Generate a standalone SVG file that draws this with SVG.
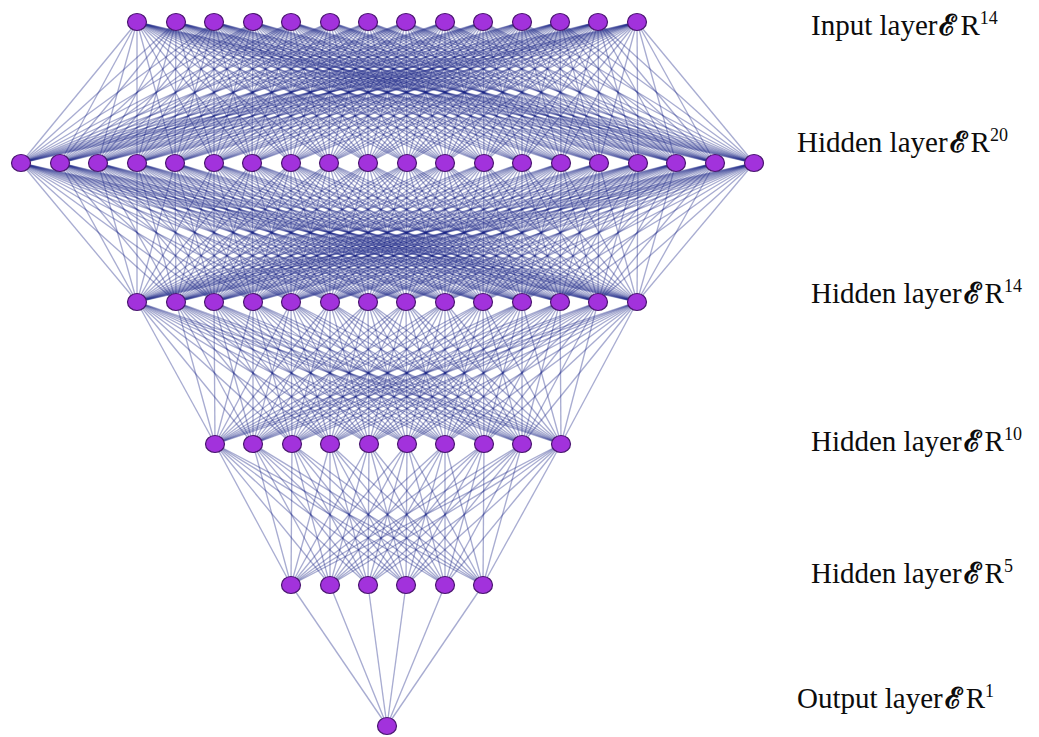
<svg xmlns="http://www.w3.org/2000/svg" width="1039" height="737" viewBox="0 0 1039 737">
<style>
.edges path{fill:none;stroke:#1b2585;stroke-opacity:.38;stroke-width:1.35}
.node{fill:#a232dc;stroke:#4a1670;stroke-width:1.2}
.lbl{font-family:"Liberation Serif","Times New Roman",serif;font-size:29px;fill:#0c0c0c}
.sym{font-family:"DejaVu Serif",serif;font-size:29px;font-weight:bold}
.sup{font-size:18px}
</style>
<rect width="1039" height="737" fill="#fff"/>
<g id="connectors" class="edges">
<path d="M137 22 21 163"/><path d="M137 22 60 163"/><path d="M137 22 98 163"/><path d="M137 22 137 163"/><path d="M137 22 175 163"/><path d="M137 22 214 163"/><path d="M137 22 252 163"/><path d="M137 22 291 163"/><path d="M137 22 329 163"/><path d="M137 22 368 163"/><path d="M137 22 407 163"/><path d="M137 22 445 163"/><path d="M137 22 484 163"/><path d="M137 22 522 163"/><path d="M137 22 561 163"/><path d="M137 22 599 163"/><path d="M137 22 638 163"/><path d="M137 22 676 163"/><path d="M137 22 715 163"/><path d="M137 22 754 163"/>
<path d="M176 22 21 163"/><path d="M176 22 60 163"/><path d="M176 22 98 163"/><path d="M176 22 137 163"/><path d="M176 22 175 163"/><path d="M176 22 214 163"/><path d="M176 22 252 163"/><path d="M176 22 291 163"/><path d="M176 22 329 163"/><path d="M176 22 368 163"/><path d="M176 22 407 163"/><path d="M176 22 445 163"/><path d="M176 22 484 163"/><path d="M176 22 522 163"/><path d="M176 22 561 163"/><path d="M176 22 599 163"/><path d="M176 22 638 163"/><path d="M176 22 676 163"/><path d="M176 22 715 163"/><path d="M176 22 754 163"/>
<path d="M214 22 21 163"/><path d="M214 22 60 163"/><path d="M214 22 98 163"/><path d="M214 22 137 163"/><path d="M214 22 175 163"/><path d="M214 22 214 163"/><path d="M214 22 252 163"/><path d="M214 22 291 163"/><path d="M214 22 329 163"/><path d="M214 22 368 163"/><path d="M214 22 407 163"/><path d="M214 22 445 163"/><path d="M214 22 484 163"/><path d="M214 22 522 163"/><path d="M214 22 561 163"/><path d="M214 22 599 163"/><path d="M214 22 638 163"/><path d="M214 22 676 163"/><path d="M214 22 715 163"/><path d="M214 22 754 163"/>
<path d="M253 22 21 163"/><path d="M253 22 60 163"/><path d="M253 22 98 163"/><path d="M253 22 137 163"/><path d="M253 22 175 163"/><path d="M253 22 214 163"/><path d="M253 22 252 163"/><path d="M253 22 291 163"/><path d="M253 22 329 163"/><path d="M253 22 368 163"/><path d="M253 22 407 163"/><path d="M253 22 445 163"/><path d="M253 22 484 163"/><path d="M253 22 522 163"/><path d="M253 22 561 163"/><path d="M253 22 599 163"/><path d="M253 22 638 163"/><path d="M253 22 676 163"/><path d="M253 22 715 163"/><path d="M253 22 754 163"/>
<path d="M291 22 21 163"/><path d="M291 22 60 163"/><path d="M291 22 98 163"/><path d="M291 22 137 163"/><path d="M291 22 175 163"/><path d="M291 22 214 163"/><path d="M291 22 252 163"/><path d="M291 22 291 163"/><path d="M291 22 329 163"/><path d="M291 22 368 163"/><path d="M291 22 407 163"/><path d="M291 22 445 163"/><path d="M291 22 484 163"/><path d="M291 22 522 163"/><path d="M291 22 561 163"/><path d="M291 22 599 163"/><path d="M291 22 638 163"/><path d="M291 22 676 163"/><path d="M291 22 715 163"/><path d="M291 22 754 163"/>
<path d="M330 22 21 163"/><path d="M330 22 60 163"/><path d="M330 22 98 163"/><path d="M330 22 137 163"/><path d="M330 22 175 163"/><path d="M330 22 214 163"/><path d="M330 22 252 163"/><path d="M330 22 291 163"/><path d="M330 22 329 163"/><path d="M330 22 368 163"/><path d="M330 22 407 163"/><path d="M330 22 445 163"/><path d="M330 22 484 163"/><path d="M330 22 522 163"/><path d="M330 22 561 163"/><path d="M330 22 599 163"/><path d="M330 22 638 163"/><path d="M330 22 676 163"/><path d="M330 22 715 163"/><path d="M330 22 754 163"/>
<path d="M368 22 21 163"/><path d="M368 22 60 163"/><path d="M368 22 98 163"/><path d="M368 22 137 163"/><path d="M368 22 175 163"/><path d="M368 22 214 163"/><path d="M368 22 252 163"/><path d="M368 22 291 163"/><path d="M368 22 329 163"/><path d="M368 22 368 163"/><path d="M368 22 407 163"/><path d="M368 22 445 163"/><path d="M368 22 484 163"/><path d="M368 22 522 163"/><path d="M368 22 561 163"/><path d="M368 22 599 163"/><path d="M368 22 638 163"/><path d="M368 22 676 163"/><path d="M368 22 715 163"/><path d="M368 22 754 163"/>
<path d="M406 22 21 163"/><path d="M406 22 60 163"/><path d="M406 22 98 163"/><path d="M406 22 137 163"/><path d="M406 22 175 163"/><path d="M406 22 214 163"/><path d="M406 22 252 163"/><path d="M406 22 291 163"/><path d="M406 22 329 163"/><path d="M406 22 368 163"/><path d="M406 22 407 163"/><path d="M406 22 445 163"/><path d="M406 22 484 163"/><path d="M406 22 522 163"/><path d="M406 22 561 163"/><path d="M406 22 599 163"/><path d="M406 22 638 163"/><path d="M406 22 676 163"/><path d="M406 22 715 163"/><path d="M406 22 754 163"/>
<path d="M445 22 21 163"/><path d="M445 22 60 163"/><path d="M445 22 98 163"/><path d="M445 22 137 163"/><path d="M445 22 175 163"/><path d="M445 22 214 163"/><path d="M445 22 252 163"/><path d="M445 22 291 163"/><path d="M445 22 329 163"/><path d="M445 22 368 163"/><path d="M445 22 407 163"/><path d="M445 22 445 163"/><path d="M445 22 484 163"/><path d="M445 22 522 163"/><path d="M445 22 561 163"/><path d="M445 22 599 163"/><path d="M445 22 638 163"/><path d="M445 22 676 163"/><path d="M445 22 715 163"/><path d="M445 22 754 163"/>
<path d="M483 22 21 163"/><path d="M483 22 60 163"/><path d="M483 22 98 163"/><path d="M483 22 137 163"/><path d="M483 22 175 163"/><path d="M483 22 214 163"/><path d="M483 22 252 163"/><path d="M483 22 291 163"/><path d="M483 22 329 163"/><path d="M483 22 368 163"/><path d="M483 22 407 163"/><path d="M483 22 445 163"/><path d="M483 22 484 163"/><path d="M483 22 522 163"/><path d="M483 22 561 163"/><path d="M483 22 599 163"/><path d="M483 22 638 163"/><path d="M483 22 676 163"/><path d="M483 22 715 163"/><path d="M483 22 754 163"/>
<path d="M522 22 21 163"/><path d="M522 22 60 163"/><path d="M522 22 98 163"/><path d="M522 22 137 163"/><path d="M522 22 175 163"/><path d="M522 22 214 163"/><path d="M522 22 252 163"/><path d="M522 22 291 163"/><path d="M522 22 329 163"/><path d="M522 22 368 163"/><path d="M522 22 407 163"/><path d="M522 22 445 163"/><path d="M522 22 484 163"/><path d="M522 22 522 163"/><path d="M522 22 561 163"/><path d="M522 22 599 163"/><path d="M522 22 638 163"/><path d="M522 22 676 163"/><path d="M522 22 715 163"/><path d="M522 22 754 163"/>
<path d="M560 22 21 163"/><path d="M560 22 60 163"/><path d="M560 22 98 163"/><path d="M560 22 137 163"/><path d="M560 22 175 163"/><path d="M560 22 214 163"/><path d="M560 22 252 163"/><path d="M560 22 291 163"/><path d="M560 22 329 163"/><path d="M560 22 368 163"/><path d="M560 22 407 163"/><path d="M560 22 445 163"/><path d="M560 22 484 163"/><path d="M560 22 522 163"/><path d="M560 22 561 163"/><path d="M560 22 599 163"/><path d="M560 22 638 163"/><path d="M560 22 676 163"/><path d="M560 22 715 163"/><path d="M560 22 754 163"/>
<path d="M598 22 21 163"/><path d="M598 22 60 163"/><path d="M598 22 98 163"/><path d="M598 22 137 163"/><path d="M598 22 175 163"/><path d="M598 22 214 163"/><path d="M598 22 252 163"/><path d="M598 22 291 163"/><path d="M598 22 329 163"/><path d="M598 22 368 163"/><path d="M598 22 407 163"/><path d="M598 22 445 163"/><path d="M598 22 484 163"/><path d="M598 22 522 163"/><path d="M598 22 561 163"/><path d="M598 22 599 163"/><path d="M598 22 638 163"/><path d="M598 22 676 163"/><path d="M598 22 715 163"/><path d="M598 22 754 163"/>
<path d="M637 22 21 163"/><path d="M637 22 60 163"/><path d="M637 22 98 163"/><path d="M637 22 137 163"/><path d="M637 22 175 163"/><path d="M637 22 214 163"/><path d="M637 22 252 163"/><path d="M637 22 291 163"/><path d="M637 22 329 163"/><path d="M637 22 368 163"/><path d="M637 22 407 163"/><path d="M637 22 445 163"/><path d="M637 22 484 163"/><path d="M637 22 522 163"/><path d="M637 22 561 163"/><path d="M637 22 599 163"/><path d="M637 22 638 163"/><path d="M637 22 676 163"/><path d="M637 22 715 163"/><path d="M637 22 754 163"/>
<path d="M21 163 137 302"/><path d="M21 163 176 302"/><path d="M21 163 214 302"/><path d="M21 163 253 302"/><path d="M21 163 291 302"/><path d="M21 163 330 302"/><path d="M21 163 368 302"/><path d="M21 163 406 302"/><path d="M21 163 445 302"/><path d="M21 163 483 302"/><path d="M21 163 522 302"/><path d="M21 163 560 302"/><path d="M21 163 598 302"/><path d="M21 163 637 302"/>
<path d="M60 163 137 302"/><path d="M60 163 176 302"/><path d="M60 163 214 302"/><path d="M60 163 253 302"/><path d="M60 163 291 302"/><path d="M60 163 330 302"/><path d="M60 163 368 302"/><path d="M60 163 406 302"/><path d="M60 163 445 302"/><path d="M60 163 483 302"/><path d="M60 163 522 302"/><path d="M60 163 560 302"/><path d="M60 163 598 302"/><path d="M60 163 637 302"/>
<path d="M98 163 137 302"/><path d="M98 163 176 302"/><path d="M98 163 214 302"/><path d="M98 163 253 302"/><path d="M98 163 291 302"/><path d="M98 163 330 302"/><path d="M98 163 368 302"/><path d="M98 163 406 302"/><path d="M98 163 445 302"/><path d="M98 163 483 302"/><path d="M98 163 522 302"/><path d="M98 163 560 302"/><path d="M98 163 598 302"/><path d="M98 163 637 302"/>
<path d="M137 163 137 302"/><path d="M137 163 176 302"/><path d="M137 163 214 302"/><path d="M137 163 253 302"/><path d="M137 163 291 302"/><path d="M137 163 330 302"/><path d="M137 163 368 302"/><path d="M137 163 406 302"/><path d="M137 163 445 302"/><path d="M137 163 483 302"/><path d="M137 163 522 302"/><path d="M137 163 560 302"/><path d="M137 163 598 302"/><path d="M137 163 637 302"/>
<path d="M175 163 137 302"/><path d="M175 163 176 302"/><path d="M175 163 214 302"/><path d="M175 163 253 302"/><path d="M175 163 291 302"/><path d="M175 163 330 302"/><path d="M175 163 368 302"/><path d="M175 163 406 302"/><path d="M175 163 445 302"/><path d="M175 163 483 302"/><path d="M175 163 522 302"/><path d="M175 163 560 302"/><path d="M175 163 598 302"/><path d="M175 163 637 302"/>
<path d="M214 163 137 302"/><path d="M214 163 176 302"/><path d="M214 163 214 302"/><path d="M214 163 253 302"/><path d="M214 163 291 302"/><path d="M214 163 330 302"/><path d="M214 163 368 302"/><path d="M214 163 406 302"/><path d="M214 163 445 302"/><path d="M214 163 483 302"/><path d="M214 163 522 302"/><path d="M214 163 560 302"/><path d="M214 163 598 302"/><path d="M214 163 637 302"/>
<path d="M252 163 137 302"/><path d="M252 163 176 302"/><path d="M252 163 214 302"/><path d="M252 163 253 302"/><path d="M252 163 291 302"/><path d="M252 163 330 302"/><path d="M252 163 368 302"/><path d="M252 163 406 302"/><path d="M252 163 445 302"/><path d="M252 163 483 302"/><path d="M252 163 522 302"/><path d="M252 163 560 302"/><path d="M252 163 598 302"/><path d="M252 163 637 302"/>
<path d="M291 163 137 302"/><path d="M291 163 176 302"/><path d="M291 163 214 302"/><path d="M291 163 253 302"/><path d="M291 163 291 302"/><path d="M291 163 330 302"/><path d="M291 163 368 302"/><path d="M291 163 406 302"/><path d="M291 163 445 302"/><path d="M291 163 483 302"/><path d="M291 163 522 302"/><path d="M291 163 560 302"/><path d="M291 163 598 302"/><path d="M291 163 637 302"/>
<path d="M329 163 137 302"/><path d="M329 163 176 302"/><path d="M329 163 214 302"/><path d="M329 163 253 302"/><path d="M329 163 291 302"/><path d="M329 163 330 302"/><path d="M329 163 368 302"/><path d="M329 163 406 302"/><path d="M329 163 445 302"/><path d="M329 163 483 302"/><path d="M329 163 522 302"/><path d="M329 163 560 302"/><path d="M329 163 598 302"/><path d="M329 163 637 302"/>
<path d="M368 163 137 302"/><path d="M368 163 176 302"/><path d="M368 163 214 302"/><path d="M368 163 253 302"/><path d="M368 163 291 302"/><path d="M368 163 330 302"/><path d="M368 163 368 302"/><path d="M368 163 406 302"/><path d="M368 163 445 302"/><path d="M368 163 483 302"/><path d="M368 163 522 302"/><path d="M368 163 560 302"/><path d="M368 163 598 302"/><path d="M368 163 637 302"/>
<path d="M407 163 137 302"/><path d="M407 163 176 302"/><path d="M407 163 214 302"/><path d="M407 163 253 302"/><path d="M407 163 291 302"/><path d="M407 163 330 302"/><path d="M407 163 368 302"/><path d="M407 163 406 302"/><path d="M407 163 445 302"/><path d="M407 163 483 302"/><path d="M407 163 522 302"/><path d="M407 163 560 302"/><path d="M407 163 598 302"/><path d="M407 163 637 302"/>
<path d="M445 163 137 302"/><path d="M445 163 176 302"/><path d="M445 163 214 302"/><path d="M445 163 253 302"/><path d="M445 163 291 302"/><path d="M445 163 330 302"/><path d="M445 163 368 302"/><path d="M445 163 406 302"/><path d="M445 163 445 302"/><path d="M445 163 483 302"/><path d="M445 163 522 302"/><path d="M445 163 560 302"/><path d="M445 163 598 302"/><path d="M445 163 637 302"/>
<path d="M484 163 137 302"/><path d="M484 163 176 302"/><path d="M484 163 214 302"/><path d="M484 163 253 302"/><path d="M484 163 291 302"/><path d="M484 163 330 302"/><path d="M484 163 368 302"/><path d="M484 163 406 302"/><path d="M484 163 445 302"/><path d="M484 163 483 302"/><path d="M484 163 522 302"/><path d="M484 163 560 302"/><path d="M484 163 598 302"/><path d="M484 163 637 302"/>
<path d="M522 163 137 302"/><path d="M522 163 176 302"/><path d="M522 163 214 302"/><path d="M522 163 253 302"/><path d="M522 163 291 302"/><path d="M522 163 330 302"/><path d="M522 163 368 302"/><path d="M522 163 406 302"/><path d="M522 163 445 302"/><path d="M522 163 483 302"/><path d="M522 163 522 302"/><path d="M522 163 560 302"/><path d="M522 163 598 302"/><path d="M522 163 637 302"/>
<path d="M561 163 137 302"/><path d="M561 163 176 302"/><path d="M561 163 214 302"/><path d="M561 163 253 302"/><path d="M561 163 291 302"/><path d="M561 163 330 302"/><path d="M561 163 368 302"/><path d="M561 163 406 302"/><path d="M561 163 445 302"/><path d="M561 163 483 302"/><path d="M561 163 522 302"/><path d="M561 163 560 302"/><path d="M561 163 598 302"/><path d="M561 163 637 302"/>
<path d="M599 163 137 302"/><path d="M599 163 176 302"/><path d="M599 163 214 302"/><path d="M599 163 253 302"/><path d="M599 163 291 302"/><path d="M599 163 330 302"/><path d="M599 163 368 302"/><path d="M599 163 406 302"/><path d="M599 163 445 302"/><path d="M599 163 483 302"/><path d="M599 163 522 302"/><path d="M599 163 560 302"/><path d="M599 163 598 302"/><path d="M599 163 637 302"/>
<path d="M638 163 137 302"/><path d="M638 163 176 302"/><path d="M638 163 214 302"/><path d="M638 163 253 302"/><path d="M638 163 291 302"/><path d="M638 163 330 302"/><path d="M638 163 368 302"/><path d="M638 163 406 302"/><path d="M638 163 445 302"/><path d="M638 163 483 302"/><path d="M638 163 522 302"/><path d="M638 163 560 302"/><path d="M638 163 598 302"/><path d="M638 163 637 302"/>
<path d="M676 163 137 302"/><path d="M676 163 176 302"/><path d="M676 163 214 302"/><path d="M676 163 253 302"/><path d="M676 163 291 302"/><path d="M676 163 330 302"/><path d="M676 163 368 302"/><path d="M676 163 406 302"/><path d="M676 163 445 302"/><path d="M676 163 483 302"/><path d="M676 163 522 302"/><path d="M676 163 560 302"/><path d="M676 163 598 302"/><path d="M676 163 637 302"/>
<path d="M715 163 137 302"/><path d="M715 163 176 302"/><path d="M715 163 214 302"/><path d="M715 163 253 302"/><path d="M715 163 291 302"/><path d="M715 163 330 302"/><path d="M715 163 368 302"/><path d="M715 163 406 302"/><path d="M715 163 445 302"/><path d="M715 163 483 302"/><path d="M715 163 522 302"/><path d="M715 163 560 302"/><path d="M715 163 598 302"/><path d="M715 163 637 302"/>
<path d="M754 163 137 302"/><path d="M754 163 176 302"/><path d="M754 163 214 302"/><path d="M754 163 253 302"/><path d="M754 163 291 302"/><path d="M754 163 330 302"/><path d="M754 163 368 302"/><path d="M754 163 406 302"/><path d="M754 163 445 302"/><path d="M754 163 483 302"/><path d="M754 163 522 302"/><path d="M754 163 560 302"/><path d="M754 163 598 302"/><path d="M754 163 637 302"/>
<path d="M137 302 215 444"/><path d="M137 302 253 444"/><path d="M137 302 292 444"/><path d="M137 302 330 444"/><path d="M137 302 369 444"/><path d="M137 302 407 444"/><path d="M137 302 445 444"/><path d="M137 302 484 444"/><path d="M137 302 522 444"/><path d="M137 302 561 444"/>
<path d="M176 302 215 444"/><path d="M176 302 253 444"/><path d="M176 302 292 444"/><path d="M176 302 330 444"/><path d="M176 302 369 444"/><path d="M176 302 407 444"/><path d="M176 302 445 444"/><path d="M176 302 484 444"/><path d="M176 302 522 444"/><path d="M176 302 561 444"/>
<path d="M214 302 215 444"/><path d="M214 302 253 444"/><path d="M214 302 292 444"/><path d="M214 302 330 444"/><path d="M214 302 369 444"/><path d="M214 302 407 444"/><path d="M214 302 445 444"/><path d="M214 302 484 444"/><path d="M214 302 522 444"/><path d="M214 302 561 444"/>
<path d="M253 302 215 444"/><path d="M253 302 253 444"/><path d="M253 302 292 444"/><path d="M253 302 330 444"/><path d="M253 302 369 444"/><path d="M253 302 407 444"/><path d="M253 302 445 444"/><path d="M253 302 484 444"/><path d="M253 302 522 444"/><path d="M253 302 561 444"/>
<path d="M291 302 215 444"/><path d="M291 302 253 444"/><path d="M291 302 292 444"/><path d="M291 302 330 444"/><path d="M291 302 369 444"/><path d="M291 302 407 444"/><path d="M291 302 445 444"/><path d="M291 302 484 444"/><path d="M291 302 522 444"/><path d="M291 302 561 444"/>
<path d="M330 302 215 444"/><path d="M330 302 253 444"/><path d="M330 302 292 444"/><path d="M330 302 330 444"/><path d="M330 302 369 444"/><path d="M330 302 407 444"/><path d="M330 302 445 444"/><path d="M330 302 484 444"/><path d="M330 302 522 444"/><path d="M330 302 561 444"/>
<path d="M368 302 215 444"/><path d="M368 302 253 444"/><path d="M368 302 292 444"/><path d="M368 302 330 444"/><path d="M368 302 369 444"/><path d="M368 302 407 444"/><path d="M368 302 445 444"/><path d="M368 302 484 444"/><path d="M368 302 522 444"/><path d="M368 302 561 444"/>
<path d="M406 302 215 444"/><path d="M406 302 253 444"/><path d="M406 302 292 444"/><path d="M406 302 330 444"/><path d="M406 302 369 444"/><path d="M406 302 407 444"/><path d="M406 302 445 444"/><path d="M406 302 484 444"/><path d="M406 302 522 444"/><path d="M406 302 561 444"/>
<path d="M445 302 215 444"/><path d="M445 302 253 444"/><path d="M445 302 292 444"/><path d="M445 302 330 444"/><path d="M445 302 369 444"/><path d="M445 302 407 444"/><path d="M445 302 445 444"/><path d="M445 302 484 444"/><path d="M445 302 522 444"/><path d="M445 302 561 444"/>
<path d="M483 302 215 444"/><path d="M483 302 253 444"/><path d="M483 302 292 444"/><path d="M483 302 330 444"/><path d="M483 302 369 444"/><path d="M483 302 407 444"/><path d="M483 302 445 444"/><path d="M483 302 484 444"/><path d="M483 302 522 444"/><path d="M483 302 561 444"/>
<path d="M522 302 215 444"/><path d="M522 302 253 444"/><path d="M522 302 292 444"/><path d="M522 302 330 444"/><path d="M522 302 369 444"/><path d="M522 302 407 444"/><path d="M522 302 445 444"/><path d="M522 302 484 444"/><path d="M522 302 522 444"/><path d="M522 302 561 444"/>
<path d="M560 302 215 444"/><path d="M560 302 253 444"/><path d="M560 302 292 444"/><path d="M560 302 330 444"/><path d="M560 302 369 444"/><path d="M560 302 407 444"/><path d="M560 302 445 444"/><path d="M560 302 484 444"/><path d="M560 302 522 444"/><path d="M560 302 561 444"/>
<path d="M598 302 215 444"/><path d="M598 302 253 444"/><path d="M598 302 292 444"/><path d="M598 302 330 444"/><path d="M598 302 369 444"/><path d="M598 302 407 444"/><path d="M598 302 445 444"/><path d="M598 302 484 444"/><path d="M598 302 522 444"/><path d="M598 302 561 444"/>
<path d="M637 302 215 444"/><path d="M637 302 253 444"/><path d="M637 302 292 444"/><path d="M637 302 330 444"/><path d="M637 302 369 444"/><path d="M637 302 407 444"/><path d="M637 302 445 444"/><path d="M637 302 484 444"/><path d="M637 302 522 444"/><path d="M637 302 561 444"/>
<path d="M215 444 291 585"/><path d="M215 444 330 585"/><path d="M215 444 368 585"/><path d="M215 444 406 585"/><path d="M215 444 445 585"/><path d="M215 444 483 585"/>
<path d="M253 444 291 585"/><path d="M253 444 330 585"/><path d="M253 444 368 585"/><path d="M253 444 406 585"/><path d="M253 444 445 585"/><path d="M253 444 483 585"/>
<path d="M292 444 291 585"/><path d="M292 444 330 585"/><path d="M292 444 368 585"/><path d="M292 444 406 585"/><path d="M292 444 445 585"/><path d="M292 444 483 585"/>
<path d="M330 444 291 585"/><path d="M330 444 330 585"/><path d="M330 444 368 585"/><path d="M330 444 406 585"/><path d="M330 444 445 585"/><path d="M330 444 483 585"/>
<path d="M369 444 291 585"/><path d="M369 444 330 585"/><path d="M369 444 368 585"/><path d="M369 444 406 585"/><path d="M369 444 445 585"/><path d="M369 444 483 585"/>
<path d="M407 444 291 585"/><path d="M407 444 330 585"/><path d="M407 444 368 585"/><path d="M407 444 406 585"/><path d="M407 444 445 585"/><path d="M407 444 483 585"/>
<path d="M445 444 291 585"/><path d="M445 444 330 585"/><path d="M445 444 368 585"/><path d="M445 444 406 585"/><path d="M445 444 445 585"/><path d="M445 444 483 585"/>
<path d="M484 444 291 585"/><path d="M484 444 330 585"/><path d="M484 444 368 585"/><path d="M484 444 406 585"/><path d="M484 444 445 585"/><path d="M484 444 483 585"/>
<path d="M522 444 291 585"/><path d="M522 444 330 585"/><path d="M522 444 368 585"/><path d="M522 444 406 585"/><path d="M522 444 445 585"/><path d="M522 444 483 585"/>
<path d="M561 444 291 585"/><path d="M561 444 330 585"/><path d="M561 444 368 585"/><path d="M561 444 406 585"/><path d="M561 444 445 585"/><path d="M561 444 483 585"/>
<path d="M291 585 387 726"/><path d="M330 585 387 726"/><path d="M368 585 387 726"/><path d="M406 585 387 726"/><path d="M445 585 387 726"/><path d="M483 585 387 726"/>
</g>
<g id="input-layer">
<g id="in1"><ellipse class="node" cx="137" cy="22" rx="9.5" ry="8.5"/></g>
<g id="in2"><ellipse class="node" cx="176" cy="22" rx="9.5" ry="8.5"/></g>
<g id="in3"><ellipse class="node" cx="214" cy="22" rx="9.5" ry="8.5"/></g>
<g id="in4"><ellipse class="node" cx="253" cy="22" rx="9.5" ry="8.5"/></g>
<g id="in5"><ellipse class="node" cx="291" cy="22" rx="9.5" ry="8.5"/></g>
<g id="in6"><ellipse class="node" cx="330" cy="22" rx="9.5" ry="8.5"/></g>
<g id="in7"><ellipse class="node" cx="368" cy="22" rx="9.5" ry="8.5"/></g>
<g id="in8"><ellipse class="node" cx="406" cy="22" rx="9.5" ry="8.5"/></g>
<g id="in9"><ellipse class="node" cx="445" cy="22" rx="9.5" ry="8.5"/></g>
<g id="in10"><ellipse class="node" cx="483" cy="22" rx="9.5" ry="8.5"/></g>
<g id="in11"><ellipse class="node" cx="522" cy="22" rx="9.5" ry="8.5"/></g>
<g id="in12"><ellipse class="node" cx="560" cy="22" rx="9.5" ry="8.5"/></g>
<g id="in13"><ellipse class="node" cx="598" cy="22" rx="9.5" ry="8.5"/></g>
<g id="in14"><ellipse class="node" cx="637" cy="22" rx="9.5" ry="8.5"/></g>
</g>
<g id="hidden-layer-1">
<g id="h1-1"><ellipse class="node" cx="21" cy="163" rx="9.5" ry="8.5"/></g>
<g id="h1-2"><ellipse class="node" cx="60" cy="163" rx="9.5" ry="8.5"/></g>
<g id="h1-3"><ellipse class="node" cx="98" cy="163" rx="9.5" ry="8.5"/></g>
<g id="h1-4"><ellipse class="node" cx="137" cy="163" rx="9.5" ry="8.5"/></g>
<g id="h1-5"><ellipse class="node" cx="175" cy="163" rx="9.5" ry="8.5"/></g>
<g id="h1-6"><ellipse class="node" cx="214" cy="163" rx="9.5" ry="8.5"/></g>
<g id="h1-7"><ellipse class="node" cx="252" cy="163" rx="9.5" ry="8.5"/></g>
<g id="h1-8"><ellipse class="node" cx="291" cy="163" rx="9.5" ry="8.5"/></g>
<g id="h1-9"><ellipse class="node" cx="329" cy="163" rx="9.5" ry="8.5"/></g>
<g id="h1-10"><ellipse class="node" cx="368" cy="163" rx="9.5" ry="8.5"/></g>
<g id="h1-11"><ellipse class="node" cx="407" cy="163" rx="9.5" ry="8.5"/></g>
<g id="h1-12"><ellipse class="node" cx="445" cy="163" rx="9.5" ry="8.5"/></g>
<g id="h1-13"><ellipse class="node" cx="484" cy="163" rx="9.5" ry="8.5"/></g>
<g id="h1-14"><ellipse class="node" cx="522" cy="163" rx="9.5" ry="8.5"/></g>
<g id="h1-15"><ellipse class="node" cx="561" cy="163" rx="9.5" ry="8.5"/></g>
<g id="h1-16"><ellipse class="node" cx="599" cy="163" rx="9.5" ry="8.5"/></g>
<g id="h1-17"><ellipse class="node" cx="638" cy="163" rx="9.5" ry="8.5"/></g>
<g id="h1-18"><ellipse class="node" cx="676" cy="163" rx="9.5" ry="8.5"/></g>
<g id="h1-19"><ellipse class="node" cx="715" cy="163" rx="9.5" ry="8.5"/></g>
<g id="h1-20"><ellipse class="node" cx="754" cy="163" rx="9.5" ry="8.5"/></g>
</g>
<g id="hidden-layer-2">
<g id="h2-1"><ellipse class="node" cx="137" cy="302" rx="9.5" ry="8.5"/></g>
<g id="h2-2"><ellipse class="node" cx="176" cy="302" rx="9.5" ry="8.5"/></g>
<g id="h2-3"><ellipse class="node" cx="214" cy="302" rx="9.5" ry="8.5"/></g>
<g id="h2-4"><ellipse class="node" cx="253" cy="302" rx="9.5" ry="8.5"/></g>
<g id="h2-5"><ellipse class="node" cx="291" cy="302" rx="9.5" ry="8.5"/></g>
<g id="h2-6"><ellipse class="node" cx="330" cy="302" rx="9.5" ry="8.5"/></g>
<g id="h2-7"><ellipse class="node" cx="368" cy="302" rx="9.5" ry="8.5"/></g>
<g id="h2-8"><ellipse class="node" cx="406" cy="302" rx="9.5" ry="8.5"/></g>
<g id="h2-9"><ellipse class="node" cx="445" cy="302" rx="9.5" ry="8.5"/></g>
<g id="h2-10"><ellipse class="node" cx="483" cy="302" rx="9.5" ry="8.5"/></g>
<g id="h2-11"><ellipse class="node" cx="522" cy="302" rx="9.5" ry="8.5"/></g>
<g id="h2-12"><ellipse class="node" cx="560" cy="302" rx="9.5" ry="8.5"/></g>
<g id="h2-13"><ellipse class="node" cx="598" cy="302" rx="9.5" ry="8.5"/></g>
<g id="h2-14"><ellipse class="node" cx="637" cy="302" rx="9.5" ry="8.5"/></g>
</g>
<g id="hidden-layer-3">
<g id="h3-1"><ellipse class="node" cx="215" cy="444" rx="9.5" ry="8.5"/></g>
<g id="h3-2"><ellipse class="node" cx="253" cy="444" rx="9.5" ry="8.5"/></g>
<g id="h3-3"><ellipse class="node" cx="292" cy="444" rx="9.5" ry="8.5"/></g>
<g id="h3-4"><ellipse class="node" cx="330" cy="444" rx="9.5" ry="8.5"/></g>
<g id="h3-5"><ellipse class="node" cx="369" cy="444" rx="9.5" ry="8.5"/></g>
<g id="h3-6"><ellipse class="node" cx="407" cy="444" rx="9.5" ry="8.5"/></g>
<g id="h3-7"><ellipse class="node" cx="445" cy="444" rx="9.5" ry="8.5"/></g>
<g id="h3-8"><ellipse class="node" cx="484" cy="444" rx="9.5" ry="8.5"/></g>
<g id="h3-9"><ellipse class="node" cx="522" cy="444" rx="9.5" ry="8.5"/></g>
<g id="h3-10"><ellipse class="node" cx="561" cy="444" rx="9.5" ry="8.5"/></g>
</g>
<g id="hidden-layer-4">
<g id="h4-1"><ellipse class="node" cx="291" cy="585" rx="9.5" ry="8.5"/></g>
<g id="h4-2"><ellipse class="node" cx="330" cy="585" rx="9.5" ry="8.5"/></g>
<g id="h4-3"><ellipse class="node" cx="368" cy="585" rx="9.5" ry="8.5"/></g>
<g id="h4-4"><ellipse class="node" cx="406" cy="585" rx="9.5" ry="8.5"/></g>
<g id="h4-5"><ellipse class="node" cx="445" cy="585" rx="9.5" ry="8.5"/></g>
<g id="h4-6"><ellipse class="node" cx="483" cy="585" rx="9.5" ry="8.5"/></g>
</g>
<g id="output-layer">
<g id="out1"><ellipse class="node" cx="387" cy="726" rx="9.5" ry="8.5"/></g>
</g>
<g id="labels">
<text class="lbl" x="811" y="35">Input layer<tspan class="sym" dx="2">ℰ</tspan><tspan dx="4">R</tspan><tspan class="sup" dy="-11">14</tspan></text>
<text class="lbl" x="797" y="152">Hidden layer<tspan class="sym" dx="2">ℰ</tspan><tspan dx="4">R</tspan><tspan class="sup" dy="-11">20</tspan></text>
<text class="lbl" x="811" y="303">Hidden layer<tspan class="sym" dx="2">ℰ</tspan><tspan dx="4">R</tspan><tspan class="sup" dy="-11">14</tspan></text>
<text class="lbl" x="811" y="451">Hidden layer<tspan class="sym" dx="2">ℰ</tspan><tspan dx="4">R</tspan><tspan class="sup" dy="-11">10</tspan></text>
<text class="lbl" x="811" y="583">Hidden layer<tspan class="sym" dx="2">ℰ</tspan><tspan dx="4">R</tspan><tspan class="sup" dy="-11">5</tspan></text>
<text class="lbl" x="797" y="708">Output layer<tspan class="sym" dx="2">ℰ</tspan><tspan dx="4">R</tspan><tspan class="sup" dy="-11">1</tspan></text>
</g>
</svg>
